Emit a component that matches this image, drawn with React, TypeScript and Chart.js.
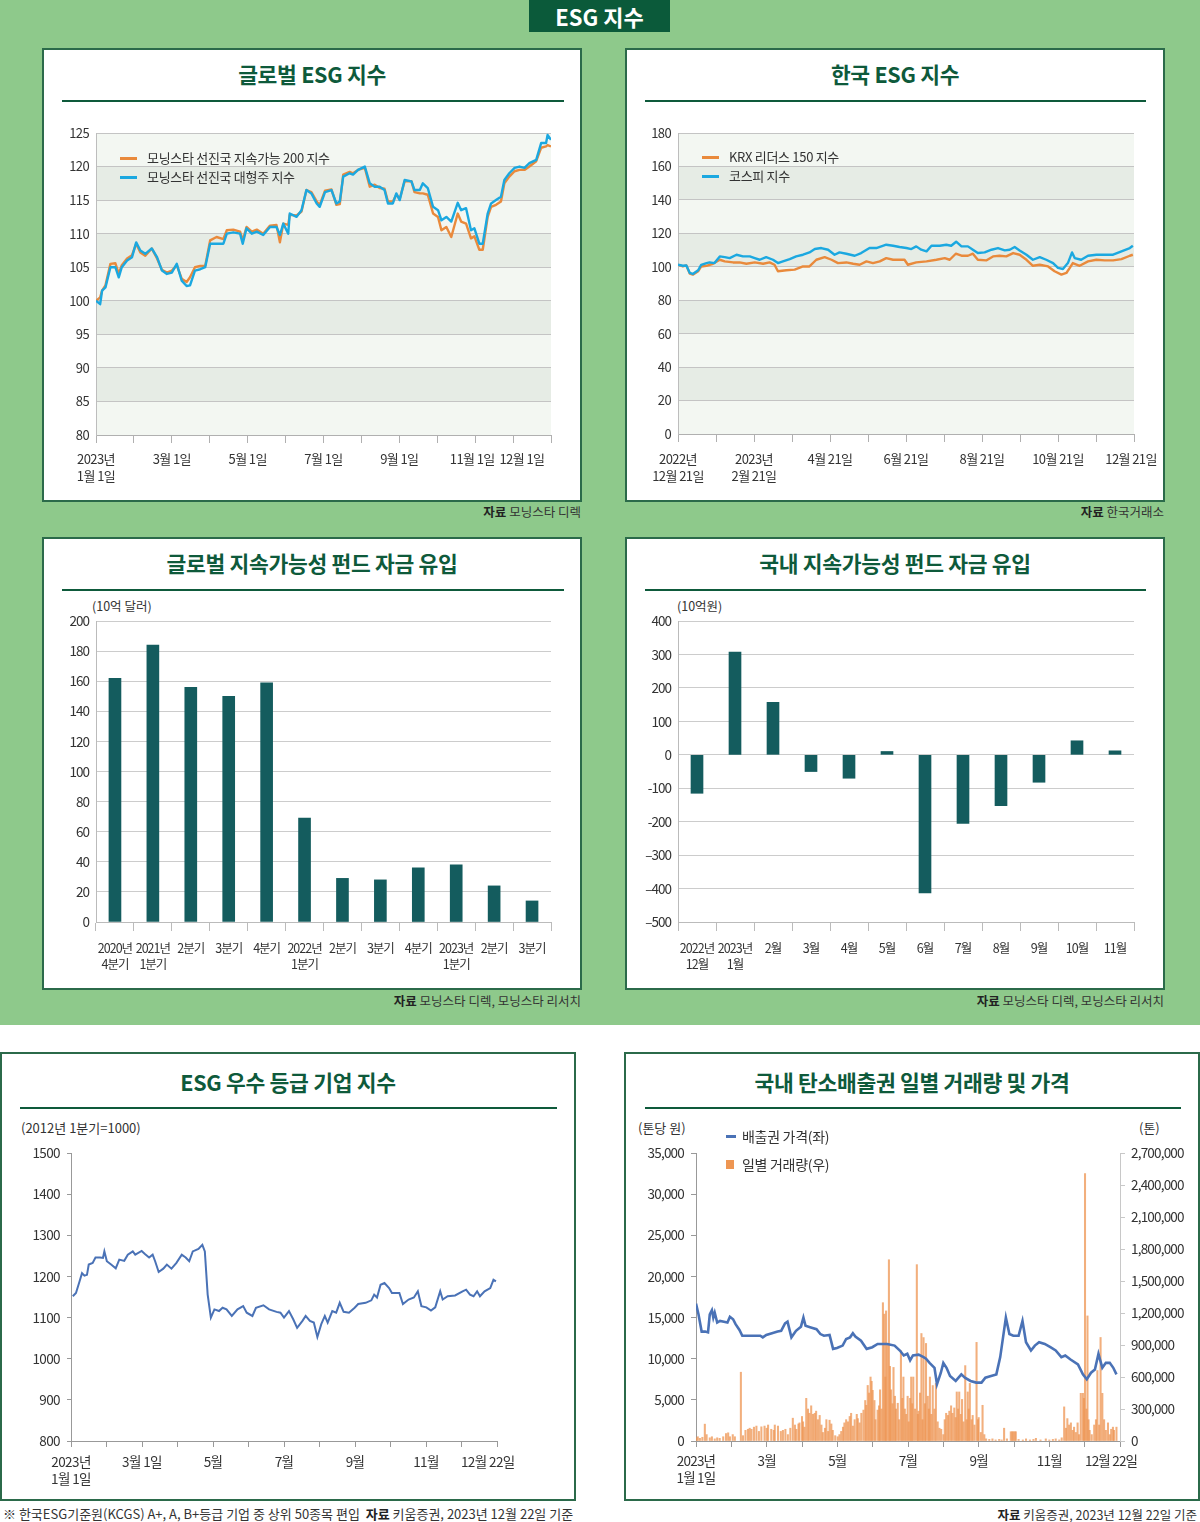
import React, { useEffect, useRef } from 'react';
import { Chart, registerables } from 'chart.js';

Chart.register(...registerables);

const FONT = '"Noto Sans CJK KR", "Noto Sans", sans-serif';
Chart.defaults.font.family = FONT;
Chart.defaults.color = '#333';

// ---------------- DATA ----------------
// 1) 글로벌 ESG 지수 (x = months elapsed since 2023-01-01)
const globalMonths = [
  0, 0.11, 0.16, 0.25, 0.38, 0.51, 0.6, 0.68, 0.82, 0.95,
  1.06, 1.17, 1.3, 1.47, 1.61, 1.74, 1.87, 2.0, 2.13, 2.26,
  2.39, 2.48, 2.61, 2.75, 2.88, 3.01, 3.18, 3.36, 3.45, 3.62,
  3.8, 3.87, 3.97, 4.11, 4.24, 4.41, 4.59, 4.76, 4.85, 4.94,
  5.07, 5.11, 5.29, 5.42, 5.55, 5.68, 5.82, 5.9, 6.04, 6.21,
  6.34, 6.43, 6.52, 6.69, 6.78, 6.91, 7.09, 7.22, 7.35, 7.48,
  7.61, 7.7, 7.83, 7.92, 8.01, 8.14, 8.32, 8.4, 8.54, 8.62,
  8.75, 8.89, 9.02, 9.11, 9.24, 9.37, 9.54, 9.63, 9.76, 9.89,
  9.98, 10.11, 10.2, 10.33, 10.42, 10.55, 10.68, 10.77, 10.9, 11.04,
  11.17, 11.3, 11.43, 11.61, 11.74, 11.87, 11.91, 12,
];
const globalLargeCap = [
  100, 99.5, 101.5, 102, 105, 105, 103.5, 105, 106, 106.5,
  108.7, 107.5, 107, 107.8, 106.5, 104.5, 104, 104.2, 105.5, 103,
  102.2, 102.3, 104.5, 104.7, 105, 108.5, 108.5, 108.5, 110, 110.2,
  110, 108.5, 110.8, 110, 110.3, 109.8, 111, 111, 109.8, 111.5,
  110, 113, 112.5, 113.5, 116.5, 116, 114.5, 114, 116.2, 116.5,
  114.5, 114.8, 118.5, 119, 118.8, 119.5, 120, 117.5, 117, 117,
  116.5, 114.5, 114.5, 116, 115, 118, 117.8, 116.5, 116.5, 117.5,
  116.8, 114, 113.5, 112, 112.5, 111.8, 114.6, 113.5, 113.8, 110.5,
  110.8, 108.5, 108.5, 113, 114.5, 115, 115.5, 118, 119, 119.8,
  120, 119.8, 120.5, 121, 123.5, 123.5, 124.7, 124,
];
const globalSustainable200 = [
  100, 100.5, 101.5, 102.3, 105.5, 105.6, 104, 105.3, 106.3, 106.8,
  108.5, 107.2, 106.7, 107.8, 106.3, 104.6, 104.2, 104.5, 105.3, 103.3,
  102.8, 103.5, 105, 105.2, 105.2, 109, 109.5, 109.2, 110.5, 110.6,
  110.3, 109, 111, 110.3, 110.6, 110, 111.2, 111.3, 108.7, 111.5,
  111.3, 112.8, 112.7, 113.3, 116.5, 116.2, 114.8, 114.3, 116.4, 116.6,
  114.3, 114.4, 118.8, 119.2, 119, 119.5, 119.8, 117, 117.3, 116.8,
  116.7, 114.8, 114.8, 115.8, 115.2, 117.8, 117.8, 116.2, 116, 116,
  115.8, 113, 112.5, 110.5, 111, 109.5, 113, 111.8, 111.5, 109.3,
  109.6, 107.6, 107.6, 112.5, 114, 114.3, 114.8, 117.5, 118.5, 119.3,
  119.5, 119.5, 120, 120.8, 122.8, 123, 123.2, 123,
];
const globalXLabels: (string | string[])[] = [
  ['2023년', '1월 1일'], '', '3월 1일', '', '5월 1일', '', '7월 1일', '', '9월 1일', '',
  '11월 1일\u2002', '\u2002\u2002\u200212월 1일', '',
];

// 2) 한국 ESG 지수 (x = months elapsed since 2022-12-21)
const kospiMonths = [
  0, 0.13, 0.22, 0.31, 0.39, 0.53, 0.61, 0.75, 0.83, 0.96,
  1.1, 1.23, 1.36, 1.54, 1.71, 1.89, 2.02, 2.15, 2.32, 2.5,
  2.63, 2.76, 2.94, 3.11, 3.29, 3.46, 3.6, 3.77, 3.95, 4.12,
  4.25, 4.43, 4.65, 4.82, 5.04, 5.22, 5.48, 5.66, 5.83, 6.01,
  6.14, 6.27, 6.4, 6.54, 6.67, 6.89, 7.06, 7.19, 7.32, 7.46,
  7.63, 7.76, 7.89, 8.07, 8.25, 8.42, 8.6, 8.73, 8.86, 8.99,
  9.17, 9.34, 9.52, 9.69, 9.87, 10.0, 10.13, 10.26, 10.37, 10.44,
  10.61, 10.79, 11.01, 11.23, 11.45, 11.67, 11.89, 11.97,
];
const kospiIndex = [
  101.2, 100.6, 100.8, 96.3, 95.7, 97.9, 101.2, 102.2, 102.6, 102.2,
  106.2, 105.8, 105.2, 107.2, 106.2, 106.2, 105.2, 104.2, 105.8, 104.2,
  102.2, 103.2, 104.6, 106.2, 107.2, 108.6, 110.6, 111.2, 110.2, 107.2,
  108.6, 107.8, 106.6, 108.2, 111.2, 111.2, 113.2, 112.6, 111.8, 111.2,
  110.6, 112.2, 110.2, 109.2, 112.6, 112.6, 113.2, 112.6, 115.0, 112.2,
  112.2, 110.2, 108.2, 108.6, 110.2, 111.2, 109.8, 110.2, 111.8, 109.8,
  107.2, 104.2, 105.8, 104.2, 102.2, 99.3, 98.7, 102.2, 108.6, 105.2,
  104.2, 106.6, 107.2, 107.2, 107.2, 109.2, 111.2, 112.6,
];
const krxMonths = [
  0, 0.13, 0.22, 0.31, 0.39, 0.53, 0.61, 0.75, 0.92, 1.1,
  1.23, 1.45, 1.62, 1.8, 2.02, 2.24, 2.41, 2.54, 2.63, 2.85,
  3.07, 3.29, 3.46, 3.64, 3.86, 4.04, 4.21, 4.43, 4.61, 4.78,
  4.96, 5.13, 5.31, 5.48, 5.66, 5.83, 5.96, 6.05, 6.27, 6.54,
  6.8, 7.02, 7.15, 7.31, 7.46, 7.63, 7.76, 7.89, 8.11, 8.29,
  8.46, 8.64, 8.82, 8.99, 9.17, 9.34, 9.52, 9.74, 9.91, 10.09,
  10.22, 10.31, 10.39, 10.57, 10.79, 11.01, 11.23, 11.45, 11.67, 11.89,
  11.97,
];
const krxLeaders150 = [
  101.2, 100.2, 100.8, 95.9, 95.3, 97.3, 100.2, 100.6, 101.8, 104.2,
  103.2, 102.6, 102.6, 101.8, 102.6, 101.8, 102.6, 101.2, 97.3, 97.9,
  98.3, 100.2, 100.2, 104.2, 105.8, 104.2, 102.2, 102.6, 101.8, 101.2,
  103.2, 102.2, 103.2, 105.2, 104.2, 104.2, 104.2, 101.2, 102.6, 103.2,
  104.2, 105.2, 104.2, 107.8, 106.6, 106.6, 107.8, 104.2, 103.8, 106.2,
  106.6, 106.2, 108.2, 107.2, 104.2, 100.6, 101.2, 100.2, 97.3, 95.3,
  96.3, 99.3, 102.2, 100.6, 103.2, 104.2, 103.8, 103.8, 104.6, 106.6,
  107.2,
];
const koreaXLabels: (string | string[])[] = [
  ['2022년', '12월 21일'], '', ['2023년', '2월 21일'], '', '4월 21일', '', '6월 21일', '',
  '8월 21일', '', '10월 21일', '', '12월 21일\u2002',
];

// 3) 글로벌 지속가능성 펀드 자금 유입 (10억 달러)
const globalFundQuarters: (string | string[])[] = [
  ['2020년', '4분기'], ['2021년', '1분기'], '2분기', '3분기', '4분기',
  ['2022년', '1분기'], '2분기', '3분기', '4분기', ['2023년', '1분기'], '2분기', '3분기',
];
const globalFundFlows = [162, 184, 156, 150, 159, 69, 29, 28, 36, 38, 24, 14];

// 4) 국내 지속가능성 펀드 자금 유입 (10억원)
const koreaFundMonths: (string | string[])[] = [
  ['2022년', '12월'], ['2023년', '1월'], '2월', '3월', '4월', '5월', '6월', '7월', '8월', '9월', '10월', '11월',
];
const koreaFundFlows = [-115, 307, 157, -50, -70, 10, -413, -205, -152, -82, 42, 12];

// 5) ESG 우수 등급 기업 지수 (x = months elapsed since 2023-01-01)
const esgTopMonths = [
  0.05, 0.14, 0.24, 0.31, 0.38, 0.45, 0.5, 0.61, 0.69, 0.82,
  0.9, 0.94, 1.01, 1.13, 1.26, 1.36, 1.5, 1.6, 1.74, 1.81,
  1.99, 2.09, 2.2, 2.3, 2.37, 2.47, 2.6, 2.7, 2.83, 2.97,
  3.12, 3.23, 3.33, 3.43, 3.59, 3.7, 3.77, 3.85, 3.94, 4.04,
  4.17, 4.27, 4.38, 4.53, 4.69, 4.85, 4.95, 5.11, 5.21, 5.42,
  5.58, 5.79, 5.9, 6.0, 6.14, 6.26, 6.37, 6.52, 6.61, 6.73,
  6.84, 6.94, 7.05, 7.15, 7.23, 7.36, 7.47, 7.57, 7.68, 7.83,
  7.99, 8.09, 8.3, 8.46, 8.54, 8.62, 8.72, 8.83, 8.96, 9.04,
  9.25, 9.35, 9.51, 9.66, 9.77, 9.87, 10.01, 10.14, 10.26, 10.4,
  10.47, 10.61, 10.82, 11.03, 11.13, 11.24, 11.34, 11.44, 11.52, 11.65,
  11.81, 11.9, 11.97,
];
const esgTopIndex = [
  1152, 1160, 1188, 1208, 1202, 1204, 1229, 1233, 1246, 1246,
  1245, 1261, 1237, 1229, 1220, 1241, 1238, 1253, 1261, 1253,
  1262, 1254, 1246, 1253, 1237, 1211, 1219, 1229, 1219, 1233,
  1253, 1246, 1237, 1261, 1267, 1277, 1261, 1156, 1100, 1120,
  1116, 1124, 1120, 1104, 1120, 1128, 1112, 1104, 1124, 1130,
  1120, 1114, 1112, 1100, 1116, 1096, 1075, 1092, 1104, 1092,
  1088, 1053, 1084, 1104, 1088, 1116, 1112, 1136, 1114, 1112,
  1124, 1133, 1136, 1142, 1156, 1149, 1180, 1184, 1172, 1160,
  1160, 1133, 1144, 1149, 1164, 1128, 1125, 1117, 1125, 1164,
  1144, 1152, 1154, 1164, 1168, 1156, 1152, 1164, 1152, 1164,
  1172, 1192, 1188,
];
const esgTopXLabels: (string | string[])[] = [
  ['2023년', '1월 1일'], '', '3월 1일', '', '5월', '', '7월', '', '9월', '', '11월', '',
  '12월 22일\u2002\u2002\u2002',
];

// 6) 국내 탄소배출권 (x = months elapsed since 2023-01-01)
const carbonPriceMonths = [
  0, 0.07, 0.16, 0.26, 0.34, 0.39, 0.45, 0.49, 0.53, 0.6,
  0.68, 0.79, 0.89, 0.96, 1.05, 1.12, 1.23, 1.31, 1.47, 1.63,
  1.82, 1.89, 1.99, 2.15, 2.31, 2.41, 2.52, 2.59, 2.7, 2.83,
  2.97, 3.04, 3.1, 3.25, 3.41, 3.52, 3.62, 3.78, 3.88, 3.99,
  4.15, 4.25, 4.36, 4.44, 4.51, 4.67, 4.83, 4.99, 5.14, 5.41,
  5.62, 5.77, 5.88, 5.98, 6.06, 6.14, 6.3, 6.44, 6.51, 6.61,
  6.75, 6.82, 6.93, 7.0, 7.09, 7.19, 7.35, 7.51, 7.61, 7.77,
  7.93, 8.08, 8.19, 8.35, 8.5, 8.61, 8.77, 8.87, 8.98, 9.13,
  9.24, 9.34, 9.48, 9.59, 9.71, 9.87, 10.03, 10.18, 10.34, 10.45,
  10.6, 10.81, 10.95, 11.06, 11.18, 11.29, 11.39, 11.5, 11.6, 11.71,
  11.81, 11.9,
];
const carbonPrice = [
  16700, 15400, 13300, 13300, 13200, 15400, 15900, 15000, 15600, 14400,
  14600, 14500, 14400, 15100, 14800, 14200, 13500, 12800, 12800, 12800,
  12800, 12600, 12900, 13100, 13300, 13400, 14300, 14500, 12600, 13400,
  13900, 15000, 14000, 13800, 13600, 13000, 12800, 12900, 11200, 11300,
  11600, 12400, 12600, 13100, 12700, 12200, 11200, 11400, 11800, 11800,
  11600, 11000, 10400, 10600, 9800, 10400, 10500, 10200, 10000, 9500,
  8900, 6900, 8300, 9500, 8900, 7900, 7300, 8100, 7700, 7300,
  7100, 7100, 7700, 7900, 8100, 10200, 15000, 13000, 12800, 12800,
  14600, 12000, 11000, 11600, 12000, 11800, 11400, 11000, 10200, 10400,
  9900, 9300, 8100, 7500, 8300, 8700, 10600, 8900, 9500, 9500,
  8900, 8100,
];
const carbonVolumeMonths = [
  0.01, 0.05, 0.11, 0.18, 0.25, 0.3, 0.39, 0.45, 0.53, 0.6,
  0.67, 0.77, 0.85, 0.91, 0.96, 1.04, 1.1, 1.27, 1.33, 1.4,
  1.47, 1.52, 1.57, 1.64, 1.71, 1.78, 1.85, 1.94, 2.0, 2.04,
  2.13, 2.2, 2.23, 2.32, 2.4, 2.46, 2.53, 2.6, 2.67, 2.74,
  2.8, 2.84, 2.9, 2.93, 3.0, 3.03, 3.07, 3.12, 3.17, 3.21,
  3.26, 3.31, 3.36, 3.4, 3.45, 3.5, 3.55, 3.59, 3.65, 3.69,
  3.74, 3.78, 3.83, 3.87, 3.94, 4.01, 4.06, 4.11, 4.16, 4.2,
  4.25, 4.3, 4.35, 4.39, 4.44, 4.49, 4.55, 4.58, 4.63, 4.68,
  4.74, 4.79, 4.82, 4.86, 4.9, 4.94, 4.97, 5.0, 5.05, 5.08,
  5.14, 5.18, 5.21, 5.25, 5.29, 5.33, 5.36, 5.38, 5.42, 5.46,
  5.49, 5.52, 5.56, 5.59, 5.63, 5.66, 5.71, 5.75, 5.8, 5.84,
  5.87, 5.91, 5.95, 5.99, 6.02, 6.06, 6.09, 6.12, 6.15, 6.2,
  6.25, 6.28, 6.3, 6.34, 6.38, 6.41, 6.44, 6.48, 6.51, 6.56,
  6.59, 6.62, 6.66, 6.7, 6.75, 6.79, 6.84, 6.89, 6.94, 7.0,
  7.04, 7.08, 7.13, 7.17, 7.22, 7.26, 7.31, 7.35, 7.38, 7.42,
  7.45, 7.49, 7.53, 7.57, 7.62, 7.66, 7.69, 7.72, 7.75, 7.8,
  7.83, 7.88, 7.94, 7.98, 8.0, 8.06, 8.11, 8.16, 8.21, 8.3,
  8.39, 8.48, 8.58, 8.65, 8.72, 8.8, 8.91, 8.95, 8.98, 9.02,
  9.05, 9.13, 9.25, 9.34, 9.45, 9.55, 9.62, 9.75, 9.9, 10.0,
  10.1, 10.18, 10.28, 10.35, 10.42, 10.47, 10.51, 10.56, 10.61, 10.66,
  10.7, 10.75, 10.8, 10.84, 10.89, 10.95, 10.98, 11.01, 11.05, 11.08,
  11.11, 11.14, 11.2, 11.27, 11.32, 11.36, 11.41, 11.45, 11.5, 11.55,
  11.6, 11.66, 11.71, 11.75, 11.8, 11.83, 11.9,
];
const carbonVolume = [
  30000, 40000, 25000, 35000, 158000, 60000, 30000, 40000, 20000, 30000,
  25000, 40000, 70000, 77000, 40000, 60000, 40000, 645000, 50000, 100000,
  110000, 120000, 110000, 130000, 140000, 90000, 133000, 140000, 120000, 150000,
  110000, 100000, 150000, 140000, 90000, 100000, 110000, 60000, 120000, 214000,
  150000, 110000, 160000, 170000, 230000, 180000, 130000, 400000, 300000, 260000,
  330000, 250000, 260000, 280000, 200000, 240000, 150000, 80000, 120000, 200000,
  90000, 195000, 160000, 100000, 50000, 40000, 60000, 90000, 130000, 170000,
  200000, 180000, 230000, 260000, 140000, 200000, 250000, 210000, 170000, 260000,
  290000, 380000, 335000, 521000, 450000, 600000, 560000, 475000, 380000, 200000,
  290000, 330000, 480000, 300000, 1297000, 1190000, 600000, 1220000, 900000, 1700000,
  700000, 480000, 350000, 690000, 420000, 300000, 354000, 200000, 847000, 400000,
  600000, 300000, 250000, 420000, 180000, 400000, 600000, 350000, 600000, 300000,
  1654000, 250000, 280000, 450000, 1008000, 200000, 970000, 350000, 915000, 420000,
  300000, 600000, 250000, 520000, 300000, 540000, 180000, 120000, 110000, 60000,
  200000, 260000, 240000, 280000, 330000, 260000, 310000, 220000, 460000, 300000,
  460000, 250000, 390000, 180000, 707000, 200000, 460000, 300000, 540000, 200000,
  240000, 150000, 925000, 200000, 220000, 80000, 335000, 60000, 20000, 15000,
  20000, 10000, 15000, 10000, 120000, 20000, 87000, 87000, 87000, 87000,
  87000, 15000, 10000, 20000, 10000, 15000, 25000, 10000, 20000, 10000,
  15000, 20000, 10000, 30000, 320000, 120000, 210000, 150000, 170000, 100000,
  130000, 80000, 170000, 60000, 447000, 447000, 400000, 2507000, 300000, 1173000,
  200000, 100000, 60000, 150000, 200000, 661000, 150000, 971000, 447000, 200000,
  100000, 170000, 60000, 110000, 130000, 100000, 130000,
];
const carbonXLabels: (string | string[])[] = [
  ['2023년', '1월 1일'], '', '3월', '', '5월', '', '7월', '', '9월', '', '11월', '',
  '12월 22일\u2002\u2002\u2002',
];

// ---------------- STYLE ----------------
const ORANGE = '#e98a3c';
const CYAN = '#1ba8e0';
const TEAL = '#145c5e';
const STEEL = '#4a72b6';
const VOL = 'rgba(238,148,82,0.75)';
const DARK_GREEN = '#0e5a3b';
const BORDER_GREEN = '#2b6a4a';

const fixW = (w: number) => (scale: any) => { scale.width = w; };
const fixH = (h: number) => (scale: any) => { scale.height = h; };
const pts = (xs: number[], ys: number[]) => xs.map((x, i) => ({ x, y: ys[i] }));

const tightText = (ls: string) => ({
  id: 'tightText',
  beforeLayout(chart: any) { (chart.ctx as any).letterSpacing = ls; },
  beforeDraw(chart: any) { (chart.ctx as any).letterSpacing = ls; },
});

const bandsPlugin = {
  id: 'bands',
  beforeDraw(chart: any) {
    const { ctx, chartArea, scales } = chart;
    const y = scales.y;
    if (!y || !chartArea) return;
    const ticks = y.ticks.map((t: any) => t.value).sort((a: number, b: number) => a - b);
    ctx.save();
    for (let i = 0; i < ticks.length - 1; i++) {
      const bottom = y.getPixelForValue(ticks[i]);
      const top = y.getPixelForValue(ticks[i + 1]);
      ctx.fillStyle = i % 2 === 1 ? '#e6ece5' : '#f3f7f2';
      ctx.fillRect(chartArea.left, top, chartArea.right - chartArea.left, bottom - top);
    }
    ctx.restore();
  },
};

const baseOpts = (padTop: number, padRight: number) => ({
  animation: false as const,
  responsive: false,
  devicePixelRatio: 1,
  layout: { padding: { top: padTop, right: padRight, left: 0, bottom: 0 } },
  plugins: { legend: { display: false }, tooltip: { enabled: false } },
});

function indexConfig(
  a: { x: number[]; y: number[]; color: string },
  b: { x: number[]; y: number[]; color: string },
  yMin: number, yMax: number, yStep: number, xLabels: (string | string[])[],
  yW: number, xH: number, padTop: number, padRight: number, labelPad: number,
): any {
  return {
    type: 'line',
    data: {
      datasets: [
        { data: pts(a.x, a.y), borderColor: a.color, borderWidth: 2.4, pointRadius: 0, tension: 0, borderJoinStyle: 'round' },
        { data: pts(b.x, b.y), borderColor: b.color, borderWidth: 2.4, pointRadius: 0, tension: 0, borderJoinStyle: 'round' },
      ],
    },
    options: {
      ...baseOpts(padTop, padRight),
      scales: {
        x: {
          type: 'linear', min: 0, max: 12, afterFit: fixH(xH),
          ticks: {
            stepSize: 1, autoSkip: false, maxRotation: 0, minRotation: 0, padding: labelPad,
            font: { size: 13, lineHeight: 1.3 }, color: '#333',
            callback: (_v: any, i: number) => xLabels[i] ?? '',
          },
          grid: { drawOnChartArea: false, drawTicks: true, tickLength: 8, color: '#b0b0b0' },
          border: { display: true, color: '#b0b0b0' },
        },
        y: {
          min: yMin, max: yMax, afterFit: fixW(yW),
          ticks: { stepSize: yStep, padding: 7, font: { size: 13 }, color: '#333' },
          grid: { color: '#c4c4c4', drawTicks: false },
          border: { display: true, color: '#bdbdbd' },
        },
      },
    },
    plugins: [bandsPlugin, tightText('-0.6px')],
  };
}

function fundConfig(labels: (string | string[])[], values: number[], yMin: number, yMax: number, yStep: number,
  yW: number, xH: number, padTop: number, padRight: number, yFmt?: (v: number) => string): any {
  return {
    type: 'bar',
    data: { labels, datasets: [{ data: values, backgroundColor: TEAL, barThickness: 12 }] },
    options: {
      ...baseOpts(padTop, padRight),
      scales: {
        x: {
          afterFit: fixH(xH),
          ticks: { autoSkip: false, maxRotation: 0, minRotation: 0, padding: 9, font: { size: 12.5, lineHeight: 1.3 }, color: '#333' },
          grid: { drawOnChartArea: false, drawTicks: true, tickLength: 9, color: '#bbbbbb', offset: true },
          border: { display: true, color: '#bbbbbb' },
        },
        y: {
          min: yMin, max: yMax, afterFit: fixW(yW),
          ticks: { stepSize: yStep, padding: 7, font: { size: 13.5 }, color: '#333', callback: (v: any) => (yFmt ? yFmt(v) : String(v)) },
          grid: { color: '#cccccc', drawTicks: false },
          border: { display: true, color: '#bbbbbb' },
        },
      },
    },
    plugins: [tightText('-1px')],
  };
}

const koreaFundTick = (v: number) => (v <= -300 ? '\u2013' + Math.abs(v) : String(v));

const esgTopConfig = (): any => ({
  type: 'line',
  data: { datasets: [{ data: pts(esgTopMonths, esgTopIndex), borderColor: STEEL, borderWidth: 2, pointRadius: 0, tension: 0 }] },
  options: {
    ...baseOpts(13, 45),
    scales: {
      x: {
        type: 'linear', min: 0, max: 12, afterFit: fixH(49),
        ticks: {
          stepSize: 1, autoSkip: false, maxRotation: 0, minRotation: 0, padding: 6,
          font: { size: 13.5, lineHeight: 1.3 }, color: '#333',
          callback: (_v: any, i: number) => esgTopXLabels[i] ?? '',
        },
        grid: { drawOnChartArea: false, drawTicks: true, tickLength: 6, color: '#999' },
        border: { display: true, color: '#999' },
      },
      y: {
        min: 800, max: 1500, afterFit: fixW(67),
        ticks: { stepSize: 100, padding: 7, font: { size: 13.5 }, color: '#333', callback: (v: any) => String(v) },
        grid: { drawOnChartArea: false, drawTicks: true, tickLength: 4, color: '#999' },
        border: { display: true, color: '#999' },
      },
    },
  },
  plugins: [tightText('-0.6px')],
});

const carbonConfig = (): any => ({
  type: 'bar',
  data: {
    datasets: [
      { type: 'line', data: pts(carbonPriceMonths, carbonPrice), borderColor: STEEL, borderWidth: 2.6, pointRadius: 0, tension: 0, yAxisID: 'y', order: 0 },
      { type: 'bar', data: pts(carbonVolumeMonths, carbonVolume), backgroundColor: VOL, barThickness: 1.4, yAxisID: 'y2', order: 1 },
    ],
  },
  options: {
    ...baseOpts(13, 0),
    scales: {
      x: {
        type: 'linear', min: 0, max: 12, offset: false, afterFit: fixH(49),
        ticks: {
          stepSize: 1, autoSkip: false, maxRotation: 0, minRotation: 0, padding: 5,
          font: { size: 13.5, lineHeight: 1.3 }, color: '#333',
          callback: (_v: any, i: number) => carbonXLabels[i] ?? '',
        },
        grid: { drawOnChartArea: false, drawTicks: true, tickLength: 6, color: '#999', offset: false },
        border: { display: true, color: '#999' },
      },
      y: {
        position: 'left', min: 0, max: 35000, afterFit: fixW(68),
        ticks: { stepSize: 5000, padding: 7, font: { size: 13.5 }, color: '#333', callback: (v: any) => Number(v).toLocaleString('en-US') },
        grid: { drawOnChartArea: false, drawTicks: true, tickLength: 5, color: '#999' },
        border: { display: true, color: '#999' },
      },
      y2: {
        position: 'right', min: 0, max: 2700000, afterFit: fixW(78),
        ticks: { stepSize: 300000, padding: 6, font: { size: 13.5 }, color: '#333', callback: (v: any) => Number(v).toLocaleString('en-US') },
        grid: { drawOnChartArea: false, drawTicks: true, tickLength: 5, color: '#c8c8c8' },
        border: { display: true, color: '#c8c8c8' },
      },
    },
  },
  plugins: [tightText('-0.8px')],
});

// ---------------- COMPONENTS ----------------
function ChartBox({ left, top, width, height, make }: { left: number; top: number; width: number; height: number; make: () => any }) {
  const ref = useRef<HTMLCanvasElement>(null);
  useEffect(() => {
    const chart = new Chart(ref.current as HTMLCanvasElement, make());
    return () => chart.destroy();
  }, []);
  return <canvas ref={ref} width={width} height={height} style={{ position: 'absolute', left, top, width, height }} />;
}

function Txt({ x, y, size = 12, weight = 400, color = '#333', align = 'left', ls, children }: any) {
  const tx = align === 'left' ? '0' : align === 'center' ? '-50%' : '-100%';
  return (
    <div style={{
      position: 'absolute', left: x, top: y, transform: `translate(${tx}, -50%)`, fontSize: size, fontWeight: weight,
      color, whiteSpace: 'pre', lineHeight: 1.2, fontFamily: FONT, letterSpacing: ls,
    }}>{children}</div>
  );
}

function Panel({ left, top, width, height, title, titleY, lineX1, lineX2, lineY }: any) {
  return (
    <>
      <div style={{ position: 'absolute', left, top, width, height, background: '#fff', border: `2px solid ${BORDER_GREEN}`, boxSizing: 'border-box' }} />
      <Txt x={left + width / 2} y={titleY} size={21.5} weight={700} color={DARK_GREEN} align="center" ls="-0.3px">{title}</Txt>
      <div style={{ position: 'absolute', left: lineX1, top: lineY, width: lineX2 - lineX1, height: 1.5, background: DARK_GREEN }} />
    </>
  );
}

function LegendLine({ x, y, color, text, size = 13 }: any) {
  return (
    <>
      <div style={{ position: 'absolute', left: x, top: y - 1.5, width: 17, height: 3, background: color }} />
      <Txt x={x + 27} y={y} size={size} ls="-0.3px">{text}</Txt>
    </>
  );
}

function Source({ x, y, text }: any) {
  return (
    <Txt x={x} y={y} size={12.5} align="right"><b style={{ color: '#222' }}>자료</b> {text}</Txt>
  );
}

export default function App() {
  return (
    <div style={{ position: 'absolute', left: 0, top: 0, width: 1200, height: 1522, background: '#fff', overflow: 'hidden', fontFamily: FONT }}>
      <div style={{ position: 'absolute', left: 0, top: 0, width: 1200, height: 1025, background: '#8ec98b' }} />
      <div style={{ position: 'absolute', left: 529, top: 0, width: 141, height: 32, background: '#0b5a3a' }} />
      <Txt x={599.5} y={16} size={22} weight={700} color="#fff" align="center">ESG 지수</Txt>

      {/* Panel 1 */}
      <Panel left={42} top={48} width={540} height={454} title="글로벌 ESG 지수" titleY={74} lineX1={62} lineX2={564} lineY={100} />
      <ChartBox left={48} top={116} width={530} height={380}
        make={() => indexConfig(
          { x: globalMonths, y: globalLargeCap, color: CYAN },
          { x: globalMonths, y: globalSustainable200, color: ORANGE },
          80, 125, 5, globalXLabels, 48, 61, 17, 27, 8)} />
      <LegendLine x={120} y={158} color={ORANGE} text="모닝스타 선진국 지속가능 200 지수" />
      <LegendLine x={120} y={177} color={CYAN} text="모닝스타 선진국 대형주 지수" />
      <Source x={581} y={511} text="모닝스타 디렉" />

      {/* Panel 2 */}
      <Panel left={625} top={48} width={540} height={454} title="한국 ESG 지수" titleY={74} lineX1={645} lineX2={1146} lineY={100} />
      <ChartBox left={631} top={116} width={545} height={380}
        make={() => indexConfig(
          { x: kospiMonths, y: kospiIndex, color: CYAN },
          { x: krxMonths, y: krxLeaders150, color: ORANGE },
          0, 180, 20, koreaXLabels, 47, 62, 17, 42, 9)} />
      <LegendLine x={702} y={157} color={ORANGE} text="KRX 리더스 150 지수" />
      <LegendLine x={702} y={176} color={CYAN} text="코스피 지수" />
      <Source x={1164} y={511} text="한국거래소" />

      {/* Panel 3 */}
      <Panel left={42} top={537} width={540} height={453} title="글로벌 지속가능성 펀드 자금 유입" titleY={563} lineX1={62} lineX2={564} lineY={589} />
      <Txt x={92} y={605} size={12.5}>(10억 달러)</Txt>
      <ChartBox left={48} top={606} width={530} height={378}
        make={() => fundConfig(globalFundQuarters, globalFundFlows, 0, 200, 20, 48, 62, 15, 27)} />
      <Source x={581} y={1000} text="모닝스타 디렉, 모닝스타 리서치" />

      {/* Panel 4 */}
      <Panel left={625} top={537} width={540} height={453} title="국내 지속가능성 펀드 자금 유입" titleY={563} lineX1={645} lineX2={1146} lineY={589} />
      <Txt x={677} y={605} size={12.5}>(10억원)</Txt>
      <ChartBox left={631} top={606} width={530} height={378}
        make={() => fundConfig(koreaFundMonths, koreaFundFlows, -500, 400, 100, 47, 62, 15, 27, koreaFundTick)} />
      <Source x={1164} y={1000} text="모닝스타 디렉, 모닝스타 리서치" />

      {/* Panel 5 */}
      <Panel left={0} top={1052} width={576} height={449} title="ESG 우수 등급 기업 지수" titleY={1082} lineX1={20} lineX2={557} lineY={1107} />
      <Txt x={21} y={1128} size={13}>(2012년 1분기=1000)</Txt>
      <ChartBox left={4} top={1138} width={538} height={352} make={esgTopConfig} />

      {/* Panel 6 */}
      <Panel left={624} top={1052} width={576} height={449} title="국내 탄소배출권 일별 거래량 및 가격" titleY={1082} lineX1={645} lineX2={1181} lineY={1107} />
      <Txt x={638} y={1128} size={13}>(톤당 원)</Txt>
      <Txt x={1139} y={1128} size={13}>(톤)</Txt>
      <ChartBox left={628} top={1138} width={570} height={352} make={carbonConfig} />
      <div style={{ position: 'absolute', left: 726, top: 1135, width: 10, height: 3, background: STEEL }} />
      <Txt x={742} y={1136} size={14} ls="-0.3px">배출권 가격(좌)</Txt>
      <div style={{ position: 'absolute', left: 726, top: 1160, width: 8, height: 9, background: '#ee9652' }} />
      <Txt x={742} y={1164} size={14} ls="-0.3px">일별 거래량(우)</Txt>

      {/* Footer */}
      <Txt x={3} y={1514} size={13}>※ 한국ESG기준원(KCGS) A+, A, B+등급 기업 중 상위 50종목 편입  <b style={{ color: '#222' }}>자료</b> 키움증권, 2023년 12월 22일 기준</Txt>
      <Source x={1197} y={1514} text="키움증권, 2023년 12월 22일 기준" />
    </div>
  );
}
